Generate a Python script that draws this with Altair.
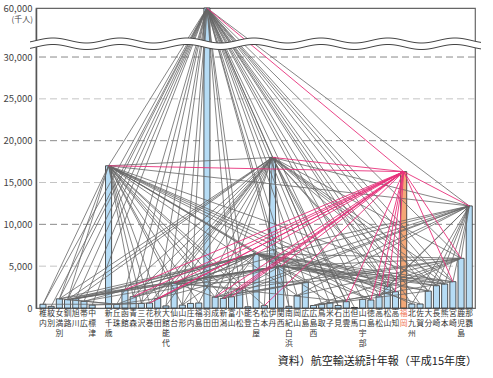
import altair as alt
import pandas as pd

# ---------------- data ----------------
airports = ["稚内", "紋別", "女満別", "釧路", "旭川", "帯広", "中標津",
            "新千歳", "丘珠", "函館", "青森", "三沢", "花巻", "秋田", "大館能代",
            "仙台", "山形", "庄内", "福島", "羽田", "成田", "新潟", "富山", "小松",
            "能登", "名古屋", "松本", "伊丹", "関西", "南紀白浜", "岡山", "広島",
            "広島西", "鳥取", "米子", "石見", "出雲", "但馬", "山口宇部", "徳島",
            "高松", "松山", "高知", "福岡", "北九州", "佐賀", "大分", "長崎", "熊本",
            "宮崎", "鹿児島", "那覇"]
passengers = [450, 200, 1100, 1000, 1100, 800, 350,
              17000, 450, 2200, 1350, 550, 600, 1150, 250,
              3000, 350, 550, 600, 60000, 1300, 1150, 1350, 2300,
              150, 6500, 280, 18000, 5000, 200, 1500, 3100,
              300, 480, 640, 300, 760, 60, 1040, 960,
              1430, 2550, 1950, 16300, 480, 480, 2030, 2670, 2870,
              3150, 5940, 12200]

# routes (each line joins two airports)
routes_haneda = ["稚内", "紋別", "女満別", "釧路", "旭川", "帯広", "中標津", "新千歳", "函館",
                 "青森", "三沢", "秋田", "大館能代", "山形", "庄内", "富山", "小松", "能登",
                 "伊丹", "関西", "南紀白浜", "岡山", "広島", "鳥取", "米子", "石見", "出雲",
                 "山口宇部", "徳島", "高松", "松山", "高知", "福岡", "北九州", "佐賀", "大分",
                 "長崎", "熊本", "宮崎", "鹿児島", "那覇"]
routes_chitose = ["稚内", "女満別", "釧路", "青森", "三沢", "花巻", "秋田", "仙台", "山形",
                  "福島", "成田", "新潟", "富山", "小松", "名古屋", "松本", "伊丹", "関西",
                  "岡山", "広島", "高松", "松山", "徳島", "福岡", "熊本", "那覇"]
routes_okadama = ["稚内", "女満別", "釧路", "中標津", "函館", "三沢", "花巻", "秋田", "仙台"]
routes_itami = ["女満別", "旭川", "釧路", "函館", "青森", "三沢", "花巻", "秋田", "仙台", "山形",
                "福島", "新潟", "松本", "南紀白浜", "但馬", "出雲", "石見", "松山", "高知",
                "福岡", "大分", "長崎", "熊本", "宮崎", "鹿児島", "那覇", "成田", "大館能代"]
routes_kansai = ["新千歳", "女満別", "旭川", "釧路", "帯広", "函館", "青森", "秋田", "仙台",
                 "新潟", "福岡", "大分", "長崎", "熊本", "宮崎", "鹿児島", "那覇", "松山"]
routes_nagoya = ["女満別", "旭川", "釧路", "帯広", "函館", "青森", "花巻", "秋田", "仙台",
                 "山形", "新潟", "成田", "福岡", "松山", "高知", "大分", "長崎", "熊本",
                 "宮崎", "鹿児島", "那覇", "出雲", "徳島", "佐賀"]
routes_fukuoka = ["函館", "青森", "花巻", "秋田", "仙台", "新潟", "富山", "小松", "松本",
                  "成田", "出雲", "徳島", "高松", "松山", "高知", "宮崎", "鹿児島", "那覇"]
routes_sendai = ["小松", "広島", "出雲", "那覇", "成田"]
routes_naha = ["新千歳", "新潟", "小松", "岡山", "広島", "高松", "松山", "北九州", "長崎",
               "熊本", "宮崎", "鹿児島", "大分"]
routes_kagoshima = ["松山", "岡山", "高松", "広島西", "小松", "成田"]
routes_other = [("小松", "成田"), ("広島", "成田"), ("広島", "新潟"), ("広島西", "宮崎"),
                ("広島西", "大分"), ("高知", "広島西"), ("北九州", "新千歳"), ("米子", "名古屋"),
                ("秋田", "丘珠"), ("函館", "旭川"), ("函館", "釧路")]

# ---------------- tables ----------------
def pos_of(i):
    return i + (1 if i >= 7 else 0)

def disp_of(v):
    return v if v <= 30000 else 30000 + (v - 30000) * 5860 / 30000

idx = {n: i for i, n in enumerate(airports)}
bars = pd.DataFrame({
    "name": airports,
    "value": passengers,
    "pos": [pos_of(i) for i in range(len(airports))],
})
bars["disp"] = [disp_of(v) for v in passengers]
bars["xl"] = bars["pos"] - 0.37
bars["xr"] = bars["pos"] + 0.37
bars["zero"] = 0
bars["label"] = ["\n".join(list(n)) for n in airports]

pairs = []
for hub, lst in [("羽田", routes_haneda), ("新千歳", routes_chitose), ("丘珠", routes_okadama),
                 ("伊丹", routes_itami), ("関西", routes_kansai), ("名古屋", routes_nagoya),
                 ("福岡", routes_fukuoka), ("仙台", routes_sendai), ("那覇", routes_naha),
                 ("鹿児島", routes_kagoshima)]:
    for d in lst:
        pairs.append((hub, d))
pairs += routes_other
seen = set()
rows = []
for a, b in pairs:
    key = frozenset((a, b))
    if key in seen or a == b:
        continue
    seen.add(key)
    ia, ib = idx[a], idx[b]
    rows.append({"a": a, "b": b,
                 "x1": pos_of(ia), "y1": disp_of(passengers[ia]),
                 "x2": pos_of(ib), "y2": disp_of(passengers[ib]),
                 "fuk": (a == "福岡" or b == "福岡")})
routes = pd.DataFrame(rows)

grid_vals = pd.DataFrame({"g": [5000, 10000, 15000, 20000, 25000, 30000]})

YMAX = disp_of(60000)
xscale = alt.Scale(domain=[-0.85, 52.7], nice=False, zero=False)
yscale = alt.Scale(domain=[0, YMAX], nice=False)
FONT = "Noto Sans CJK JP"

grid = alt.Chart(grid_vals).mark_rule(strokeDash=[7, 4], strokeWidth=1).encode(
    y=alt.Y("g:Q", scale=yscale),
    color=alt.condition("datum.g % 10000 == 0", alt.value("#8a8a8a"), alt.value("#c4c4c4")),
)

bar_layer = alt.Chart(bars).mark_rect(stroke="#2a2a2a", strokeWidth=0.8).encode(
    x=alt.X("xl:Q", scale=xscale, axis=None),
    x2="xr:Q",
    y=alt.Y("disp:Q", scale=yscale,
            axis=alt.Axis(values=[0, 5000, 10000, 15000, 20000, 25000, 30000, YMAX],
                          labelExpr="datum.value > 31000 ? '60,000' : format(datum.value, ',')",
                          grid=False, ticks=False, title=None, labelPadding=4,
                          labelFont=FONT, labelFontSize=9.5, labelColor="#444",
                          domainColor="#555", domainWidth=1.5)),
    y2="zero:Q",
    fill=alt.condition(alt.datum.name == "福岡", alt.value("#f4a877"), alt.value("#b6dcf5")),
)

gray_routes = alt.Chart(routes).transform_filter("!datum.fuk").mark_rule(
    color="#666666", strokeWidth=0.8).encode(
    x=alt.X("x1:Q", scale=xscale), x2="x2:Q",
    y=alt.Y("y1:Q", scale=yscale), y2="y2:Q")

pink_routes = alt.Chart(routes).transform_filter("datum.fuk").mark_rule(
    color="#e8307a", strokeWidth=0.9).encode(
    x=alt.X("x1:Q", scale=xscale), x2="x2:Q",
    y=alt.Y("y1:Q", scale=yscale), y2="y2:Q")

# decorative scale-break band
wave_base = alt.Chart(alt.sequence(-6, 446, 1, as_="px")).transform_calculate(
    mid="35.75 + 2.5 * sin((datum.px - 33.75) * 2 * PI / 67)",
    up="datum.mid - 3.25",
    lo="datum.mid + 3.25",
)
band = wave_base.mark_line(color="white", strokeWidth=6.5).encode(
    x=alt.X("px:Q", scale=None), y=alt.Y("mid:Q", scale=None), order="px:Q")
wave_up = wave_base.mark_line(color="#444", strokeWidth=1).encode(
    x=alt.X("px:Q", scale=None), y=alt.Y("up:Q", scale=None), order="px:Q")
wave_lo = wave_base.mark_line(color="#444", strokeWidth=1).encode(
    x=alt.X("px:Q", scale=None), y=alt.Y("lo:Q", scale=None), order="px:Q")

labels = alt.Chart(bars).mark_text(
    lineBreak="\n", baseline="top", align="center", fontSize=7.8, lineHeight=10, font=FONT
).encode(
    x=alt.X("pos:Q", scale=xscale),
    y=alt.value(302),
    text="label:N",
    color=alt.condition(alt.datum.name == "福岡", alt.value("#f07858"), alt.value("#333333")),
)

unit = alt.Chart(pd.DataFrame({"t": ["(千人)"]})).mark_text(
    align="right", baseline="middle", fontSize=8, font=FONT, color="#444"
).encode(x=alt.value(-3), y=alt.value(12), text="t:N")

source = alt.Chart(pd.DataFrame({"t": ["資料）航空輸送統計年報（平成15年度）"]})).mark_text(
    align="right", baseline="middle", fontSize=11, font=FONT, color="#222"
).encode(x=alt.value(441), y=alt.value(354), text="t:N")

chart = alt.layer(grid, bar_layer, gray_routes, pink_routes, band, wave_up, wave_lo,
                  labels, unit, source).properties(
    width=439, height=300,
    autosize=alt.AutoSizeParams(type="none"),
    padding={"left": 36, "top": 8, "right": 18, "bottom": 70},
).configure_view(stroke="#666", strokeWidth=1.2)

chart.save("out.html", embed_options={"renderer": "svg", "actions": False})
